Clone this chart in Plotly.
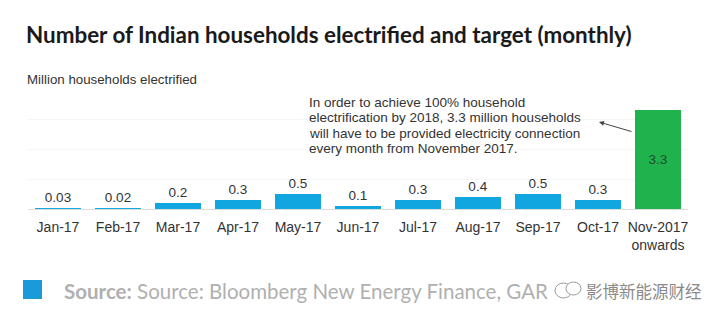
import plotly.graph_objects as go

categories = ["Jan-17", "Feb-17", "Mar-17", "Apr-17", "May-17", "Jun-17",
              "Jul-17", "Aug-17", "Sep-17", "Oct-17", "Nov-2017<br>onwards"]
values = [0.03, 0.02, 0.2, 0.3, 0.5, 0.1, 0.3, 0.4, 0.5, 0.3, 3.3]
labels = ["0.03", "0.02", "0.2", "0.3", "0.5", "0.1", "0.3", "0.4", "0.5", "0.3", "3.3"]
note_lines = ["In order to achieve 100% household",
              "electrification by 2018, 3.3 million households",
              "will have to be provided electricity connection",
              "every month from November 2017."]

BLUE = "#12a6e0"
GREEN = "#1fb24d"

colors = [BLUE] * 10 + [GREEN]
textpos = ["outside"] * 10 + ["inside"]
textcolors = ["#333333"] * 10 + ["#1b4f2a"]


def px(x):
    return (x - 28) / 660


def py(y):
    return (209 - y) / 120


fig = go.Figure()
fig.add_trace(go.Bar(
    x=categories, y=values,
    marker=dict(color=colors, line=dict(width=0)),
    text=labels, textposition=textpos, insidetextanchor="middle",
    textfont=dict(family="Liberation Sans", size=13.5, color=textcolors),
    cliponaxis=False, hoverinfo="skip",
))

annotations = [
    dict(text="<b>Number of Indian households electrified and target (monthly)</b>",
         xref="paper", yref="paper", x=px(24), y=py(34),
         xanchor="left", yanchor="middle", showarrow=False,
         font=dict(family="Lato", size=22.4, color="#1a1a1a")),
    dict(text="Million households electrified",
         xref="paper", yref="paper", x=px(25), y=py(79),
         xanchor="left", yanchor="middle", showarrow=False,
         font=dict(family="Liberation Sans", size=13.3, color="#333333")),
]
for i, line in enumerate(note_lines):
    annotations.append(dict(
        text=line, xref="paper", yref="paper", x=px(307), y=py(102 + 15.5 * i),
        xanchor="left", yanchor="middle", align="left", showarrow=False,
        font=dict(family="Liberation Sans", size=13.5, color="#333333")))
annotations += [
    dict(text="", xref="paper", yref="paper", x=px(599), y=py(122),
         ax=34, ay=10, axref="pixel", ayref="pixel", showarrow=True,
         arrowhead=2, arrowsize=1, arrowwidth=1, arrowcolor="#444444"),
    dict(text="<b>Source:</b> Source: Bloomberg New Energy Finance, GAR",
         xref="paper", yref="paper", x=px(62), y=py(291),
         xanchor="left", yanchor="middle", showarrow=False,
         font=dict(family="Lato", size=20.5, color="#b0b0b0")),
    dict(text="影博新能源财经",
         xref="paper", yref="paper", x=px(584), y=py(291),
         xanchor="left", yanchor="middle", showarrow=False,
         font=dict(family="Noto Sans CJK SC", size=16.5, color="#8a8a8a")),
]

fig.update_layout(
    width=720, height=328,
    margin=dict(l=28, r=32, t=89, b=119),
    paper_bgcolor="white", plot_bgcolor="white",
    showlegend=False, bargap=0.233,
    xaxis=dict(showgrid=False, showline=False, ticks="", zeroline=False,
               ticklabelstandoff=8,
               tickfont=dict(family="Liberation Sans", size=14, color="#333333")),
    yaxis=dict(range=[0, 4], showticklabels=False, ticks="", showline=False,
               tickvals=[1, 2, 3, 4], gridcolor="#f6f6f6", gridwidth=1,
               zeroline=True, zerolinecolor="#dddddd", zerolinewidth=1),
    annotations=annotations,
    shapes=[
        dict(type="rect", xref="paper", yref="paper",
             x0=px(23), x1=px(42), y0=py(299), y1=py(280),
             fillcolor="#1a9ad8", line=dict(width=0)),
        dict(type="circle", xref="paper", yref="paper",
             x0=px(555), x1=px(572), y0=py(298), y1=py(283),
             fillcolor="white", line=dict(color="#9a9a9a", width=1)),
        dict(type="circle", xref="paper", yref="paper",
             x0=px(566), x1=px(581), y0=py(295), y1=py(282),
             fillcolor="white", line=dict(color="#9a9a9a", width=1)),
    ],
)

fig.write_html("out.html")
